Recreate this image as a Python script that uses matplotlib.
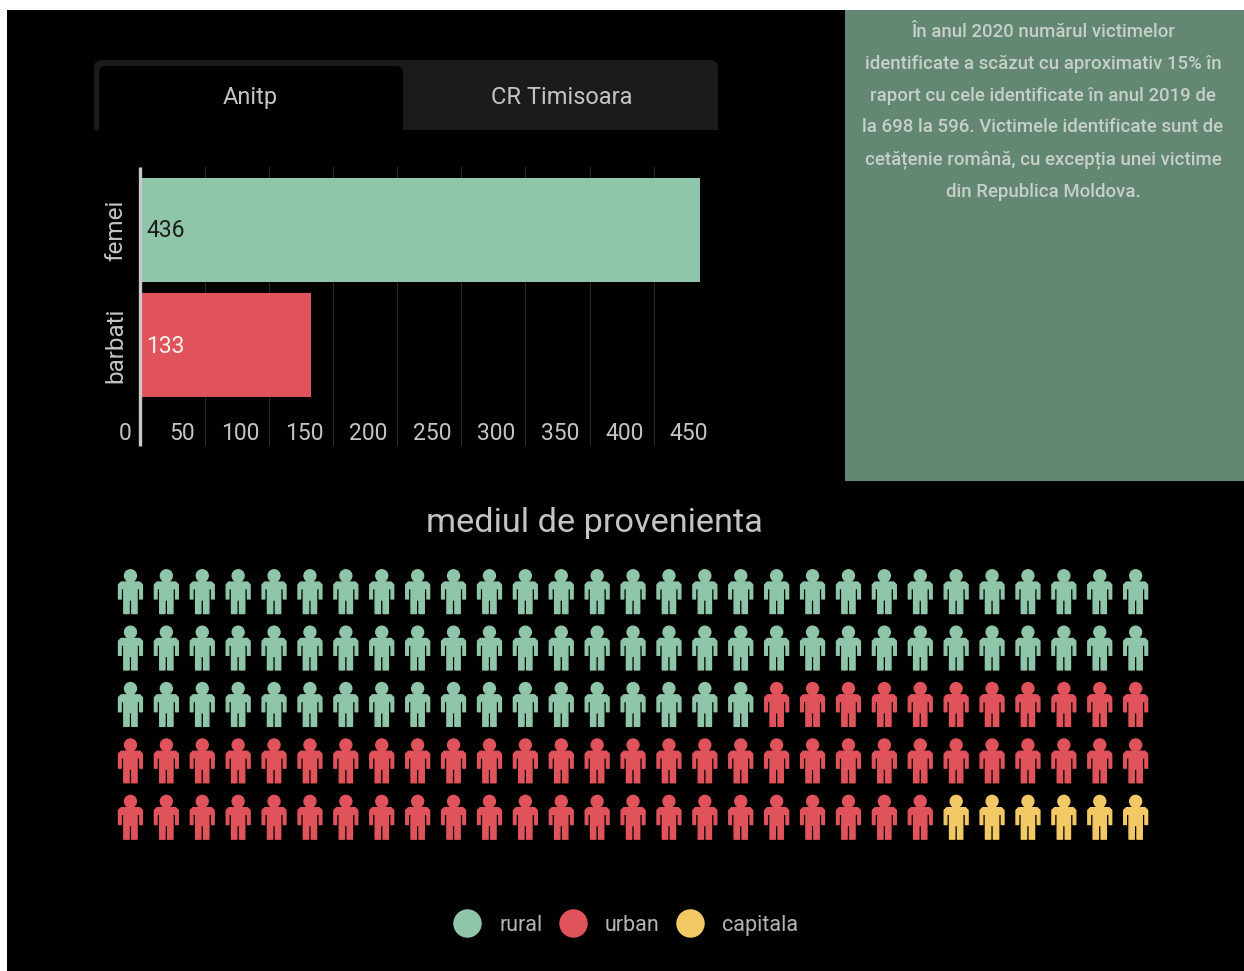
import matplotlib
matplotlib.use("Agg")
import matplotlib.pyplot as plt
from matplotlib.lines import Line2D
from matplotlib.patches import PathPatch, Rectangle
from matplotlib.path import Path
import numpy as np

plt.rcParams['font.family'] = ['Roboto', 'DejaVu Sans']

W, H = 1244, 971

# bar chart data
genders = ['femei', 'barbati']
gender_values = [436, 133]
gender_colors = ['#8fc5a9', '#e0535a']
value_colors = ['#1c1c1c', '#f2f2f2']
x_ticks = [0, 50, 100, 150, 200, 250, 300, 350, 400, 450]

# waffle data
origins = ['rural', 'urban', 'capitala']
origin_counts = [76, 63, 6]
origin_colors = ['#8fc5a9', '#e0535a', '#f2c964']
rows, cols = 5, 29

tabs = ['Anitp', 'CR Timisoara']
title = 'mediul de provenienta'
note = ('În anul 2020 numărul victimelor\n'
        'identificate a scăzut cu aproximativ 15% în\n'
        'raport cu cele identificate în anul 2019 de\n'
        'la 698 la 596. Victimele identificate sunt de\n'
        'cetățenie română, cu excepția unei victime\n'
        'din Republica Moldova.')

TEXT = '#c4c4c4'


def px_axes(fig, left, top, right, bottom):
    # axes placed from pixel coordinates measured from the top left
    return fig.add_axes([left / W, 1 - bottom / H, (right - left) / W, (bottom - top) / H])


def rounded_top(x0, y0, x1, y1, r):
    verts = [(x0, y1), (x0, y0 + r), (x0, y0), (x0 + r, y0), (x1 - r, y0), (x1, y0),
             (x1, y0 + r), (x1, y1), (x0, y1)]
    codes = [Path.MOVETO, Path.LINETO, Path.CURVE3, Path.CURVE3, Path.LINETO, Path.CURVE3,
             Path.CURVE3, Path.LINETO, Path.CLOSEPOLY]
    return Path(verts, codes)


def person_marker():
    # outline measured on the icon, y down, then flipped
    body = np.array([(-28, -30), (28, -30), (36, -22), (36, 21), (28, 21), (28, -10),
                     (20, -10), (20, 65), (4, 65), (4, 24), (-4, 24), (-4, 65),
                     (-20, 65), (-20, -10), (-28, -10), (-28, 21), (-36, 21), (-36, -22),
                     (-28, -30)], dtype=float)
    body = body * [1, -1] / 134
    head = Path.circle((0, 49 / 134), 18 / 134)
    return Path.make_compound_path(head, Path(body, closed=True))


fig = plt.figure(figsize=(W / 100, H / 100), dpi=100, facecolor='white')

# page background, tabs and note panel
bg = px_axes(fig, 0, 0, W, H)
bg.set_xlim(0, W)
bg.set_ylim(H, 0)
bg.axis('off')
bg.add_patch(Rectangle((7, 10), W - 7, H - 10, color='black', lw=0))
bg.add_patch(PathPatch(rounded_top(94, 60, 718, 130, 8), fc='#1b1b1b', lw=0))
bg.add_patch(PathPatch(rounded_top(99, 66, 403, 130, 7), fc='black', lw=0))
bg.text(250.5, 97.5, tabs[0], color=TEXT, fontsize=17, ha='center', va='center')
bg.text(561.5, 97.5, tabs[1], color=TEXT, fontsize=17, ha='center', va='center')
bg.add_patch(Rectangle((845, 10), W - 845, 471, color='#648773', lw=0))
bg.text(1043, 112, note, color='#c6d0ca', fontsize=13.4, fontweight='medium',
        ha='center', va='center', linespacing=1.98)
bg.text(594, 523, title, color=TEXT, fontsize=24.7, ha='center', va='center')

# horizontal bars
ax = px_axes(fig, 140.8, 167, 717.8, 446)
ax.patch.set_alpha(0)
ax.set_xlim(0, 450)
ax.set_ylim(1.874, -0.545)
# moving the spine resets the ticks, so it comes first
ax.spines['left'].set_position(('outward', 0.5))
ax.barh(range(len(genders)), gender_values, height=0.9, color=gender_colors, zorder=2)
for i, v in enumerate(gender_values):
    ax.annotate(str(v), (0, i), xytext=(4, -0.8), textcoords='offset points',
                color=value_colors[i], fontsize=16.5, va='center', zorder=3)
for t in x_ticks:
    ax.annotate(str(t), (t, 1.74), xytext=(-7, -1.8), textcoords='offset points',
                color=TEXT, fontsize=16.5, ha='right', va='center')
ax.set_xticks(x_ticks[1:])
ax.tick_params(axis='x', length=0, labelbottom=False)
ax.grid(axis='x', color='#2b2b2b', lw=0.8, zorder=0)
ax.set_axisbelow(True)
ax.set_yticks(range(len(genders)), genders, rotation=90, va='center', color=TEXT, fontsize=17.5)
ax.tick_params(axis='y', length=0, pad=9.5)
for side in ['top', 'right', 'bottom']:
    ax.spines[side].set_visible(False)
ax.spines['left'].set_color('#c9c9c9')
ax.spines['left'].set_linewidth(2.4)
ax.spines['left'].set_capstyle('butt')

# waffle of people
wf = px_axes(fig, 112.5, 563.8, 112.5 + 35.9 * cols, 563.8 + 56.4 * rows)
wf.patch.set_alpha(0)
wf.set_xlim(-0.5, cols - 0.5)
wf.set_ylim(rows - 0.5, -0.5)
wf.axis('off')
row_idx, col_idx = np.divmod(np.arange(sum(origin_counts)), cols)
icon_colors = np.repeat(origin_colors, origin_counts)
icons = wf.scatter(col_idx, row_idx, marker=person_marker(), s=32 ** 2, c=icon_colors,
                   edgecolors=icon_colors, linewidths=1.0)
icons.set_joinstyle('round')

# legend
handles = [Line2D([], [], ls='none', marker='o', ms=20.5, mfc=c, mec=c, mew=0)
           for c in origin_colors]
leg = fig.legend(handles, origins, ncol=3, frameon=False, fontsize=15.5, labelcolor='#b4b4b4',
                 loc='center', bbox_to_anchor=(625.5 / W, 1 - 925.5 / H),
                 handlelength=1.34, handletextpad=0.82, columnspacing=0.75,
                 borderpad=0, borderaxespad=0)

fig.savefig('out.png', dpi=100, facecolor=fig.get_facecolor())
